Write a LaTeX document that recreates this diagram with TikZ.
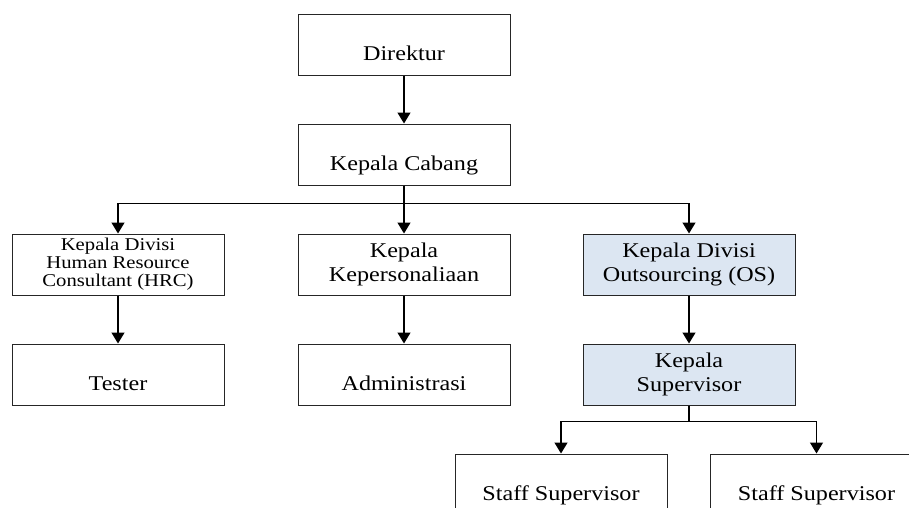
\documentclass[tikz,border=0pt]{standalone}
\usepackage{fontspec}
\setmainfont{Liberation Serif}[FakeStretch=1.15]
\usetikzlibrary{arrows.meta, positioning}

\definecolor{osblue}{HTML}{DCE6F2}

\begin{document}
\begin{tikzpicture}[
    node distance=48pt,
    box/.style={rectangle, minimum width=212pt, minimum height=61pt, text centered, draw=black!85, line width=1pt, fill=white, font=\fontsize{21}{24}\selectfont},
    oneline/.style={box, text height=31pt, text depth=0pt},
    twoline/.style={box, align=center},
    small/.style={box, align=center, font=\fontsize{18}{18}\selectfont},
    osbox/.style={fill=osblue},
    arrow/.style={-{Triangle[width=13pt, length=11pt]}, line width=1.3pt}
]
\useasboundingbox (0pt,0pt) rectangle (909pt,-507pt);

% Nodes
\node (direktur) [oneline] at (404pt,-44.5pt) {Direktur};
\node (cabang) [oneline, below=of direktur] {Kepala Cabang};

\node (personalia) [twoline, below=of cabang] {Kepala\\Kepersonaliaan};
\node (hrc) [small, left=73pt of personalia] {Kepala Divisi\\Human Resource\\Consultant (HRC)};
\node (outsourcing) [twoline, osbox, right=72pt of personalia] {Kepala Divisi\\Outsourcing (OS)};

\node (tester) [oneline, below=of hrc] {Tester};
\node (admin) [oneline, below=of personalia] {Administrasi};
\node (supervisor) [twoline, osbox, below=of outsourcing] {Kepala\\Supervisor};

\node (staffA) [oneline, below=of supervisor, xshift=-128pt] {Staff Supervisor};
\node (staffB) [oneline, below=of supervisor, xshift=127.5pt] {Staff Supervisor};

% Arrows
\draw [arrow] (direktur) -- (cabang);
\draw [arrow] (cabang.south) -- ++(0,-18pt) -| (hrc.north);
\draw [arrow] (cabang) -- (personalia);
\draw [arrow] (cabang.south) -- ++(0,-18pt) -| (outsourcing.north);
\draw [arrow] (hrc) -- (tester);
\draw [arrow] (personalia) -- (admin);
\draw [arrow] (outsourcing) -- (supervisor);
\draw [arrow] (supervisor.south) -- ++(0,-16pt) -| (staffA.north);
\draw [arrow] (supervisor.south) -- ++(0,-16pt) -| (staffB.north);

\end{tikzpicture}
\end{document}
